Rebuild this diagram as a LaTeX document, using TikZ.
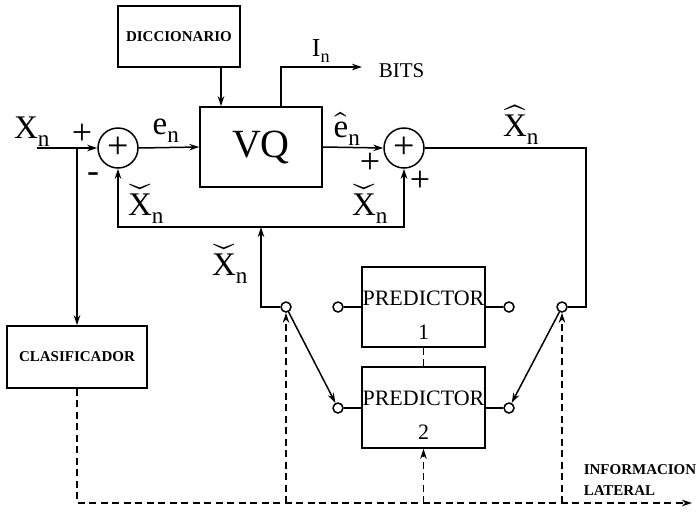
\documentclass[tikz,border=0pt]{standalone}
\usepackage{unicode-math}
\setmainfont{Liberation Serif}
\setmathfont{Latin Modern Math}
\usetikzlibrary{arrows.meta}
\newcommand{\Xchk}{$\widecheck{\mathrm{X}}_{\mathrm{n}}$}
\newcommand{\Xhat}{$\widehat{\mathrm{X}}_{\mathrm{n}}$}
\newcommand{\ehat}{$\widehat{\mathrm{e}}_{\mathrm{n}}$}
\begin{document}
\begin{tikzpicture}[x=1pt,y=-1pt,line width=1.5pt,
  >={Stealth[length=10pt,width=6.5pt]},
  box/.style={draw,rectangle,inner sep=0pt},
  sumnode/.style={draw,circle,minimum size=40pt,inner sep=0pt,font=\fontsize{38}{40}\selectfont},
  term/.style={draw,circle,minimum size=10pt,inner sep=0pt,fill=white},
  lbl/.style={inner sep=0pt,font=\fontsize{33}{35}\selectfont},
  sgn/.style={inner sep=0pt,font=\fontsize{36}{38}\selectfont},
  small/.style={inner sep=0pt,font=\fontsize{15}{17}\selectfont\bfseries},
  pred/.style={box,minimum width=123pt,minimum height=80pt,align=center,font=\fontsize{22}{24}\selectfont},
  dsh/.style={dash pattern=on 7pt off 4.5pt}]
\path[use as bounding box] (0,0) rectangle (698,515);

% blocks
\node[box,minimum width=122pt,minimum height=61pt,small] (dic) at (179,36.5) {DICCIONARIO};
\node[box,minimum width=122pt,minimum height=80pt,font=\fontsize{40}{42}\selectfont] (vq) at (261,147) {VQ};
\node[sumnode] (s1) at (118,148) {+};
\node[sumnode] (s2) at (404,148) {+};
\node[box,minimum width=140pt,minimum height=62pt,small] (cls) at (77,357) {CLASIFICADOR};
\node[pred] (p1) at (423.5,307) {\rule{0pt}{30pt}PREDICTOR\\[10pt]1};
\node[pred,minimum height=81pt] (p2) at (423.5,407.5) {\rule{0pt}{30pt}PREDICTOR\\[10pt]2};

% terminals
\node[term] (c1l) at (338,307) {};
\node[term] (c1r) at (509,307) {};
\node[term] (c2l) at (338,408) {};
\node[term] (c2r) at (509,408) {};
\node[term] (swl) at (286,307) {};
\node[term] (swr) at (562,307) {};

% coordinates
\coordinate (xin) at (37,148);
\coordinate (jn) at (77,148);
\coordinate (fbl) at (118,227);
\coordinate (fbr) at (404,227);
\coordinate (fbm) at (261,227);
\coordinate (pl) at (261,307);
\coordinate (outr) at (586,148);
\coordinate (outd) at (586,307);
\coordinate (inup) at (281,67);
\coordinate (bits) at (362,67);
\coordinate (bl) at (77,503);
\coordinate (bend) at (692,503);
\coordinate (b1) at (286,503);
\coordinate (b2) at (423.5,503);
\coordinate (b3) at (562,503);

% connectors
\draw[->] (xin) -- (s1.west);
\draw[->] (jn) -- (cls.north);
\draw[->] (s1.east) -- (vq.west);
\draw[->] (dic.south -| 221,0) -- (vq.north -| 221,0);
\draw[->] (vq.north -| inup) -- (inup) -- (bits);
\draw[->] (vq.east) -- (s2.west);
\draw (s2.east) -- (outr) -- (outd) -- (swr.east);
\draw[->] (fbr) -- (fbl) -- (s1.south);
\draw[->] (fbl) -- (fbr) -- (s2.south);
\draw[->] (swl.west) -- (pl) -- (fbm);
\draw (c1l) -- (p1.west |- c1l);
\draw (c1r) -- (p1.east |- c1r);
\draw (c2l) -- (p2.west |- c2l);
\draw (c2r) -- (p2.east |- c2r);
\draw[->] (swl) -- (c2l);
\draw[->] (swr) -- (c2r);
\draw[dsh] (p1.south) -- (p2.north);

% side information
\draw[dsh,->] (cls.south) -- (bl) -- (bend);
\draw[dsh,->] (b1) -- (swl.south);
\draw[dsh,->] (b2) -- (p2.south);
\draw[dsh,->] (b3) -- (swr.south);

% labels
\node[lbl] at (32,132) {X$_{\mathrm{n}}$};
\node[sgn] at (82,134) {+};
\node[sgn] at (93,178) {-};
\node[lbl] at (166,131) {e$_{\mathrm{n}}$};
\node[lbl] at (347,129) {\ehat};
\node[sgn] at (370,163) {+};
\node[sgn] at (420,181) {+};
\node[lbl] at (521,125) {\Xhat};
\node[lbl] at (146,204) {\Xchk};
\node[lbl] at (370,204) {\Xchk};
\node[lbl] at (230,264) {\Xchk};
\node[inner sep=0pt,font=\fontsize{26}{28}\selectfont] at (321,51) {I$_{\mathrm{n}}$};
\node[inner sep=0pt,font=\fontsize{21}{23}\selectfont,anchor=west] at (378,71) {BITS};
\node[small,anchor=west] at (583,470) {INFORMACION};
\node[small,anchor=west] at (583,491) {LATERAL};
\end{tikzpicture}
\end{document}
